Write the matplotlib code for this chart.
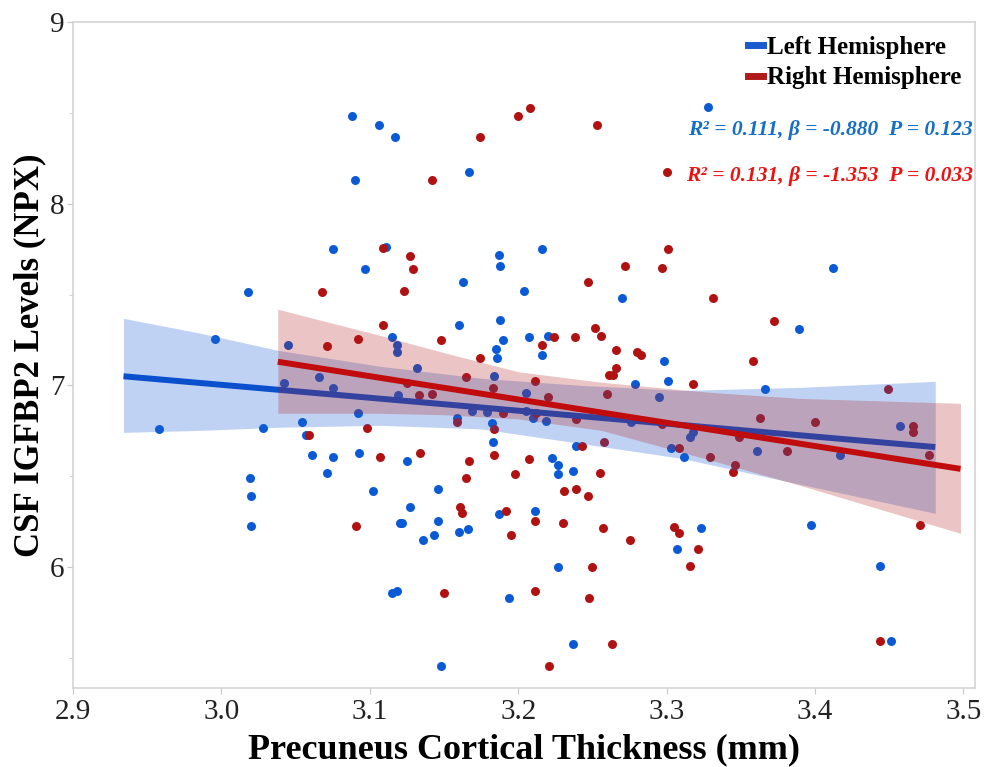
import numpy as np
import matplotlib
matplotlib.use("Agg")
import matplotlib.pyplot as plt
from matplotlib.lines import Line2D

plt.rcParams['font.family'] = ['Liberation Serif', 'DejaVu Serif']

# left hemisphere points (thickness mm, NPX)
left_x = [2.958, 2.996, 3.018, 3.028, 3.019, 3.020, 3.020, 3.088, 3.106, 3.117,
          3.090, 3.075, 3.111, 3.097, 3.045, 3.066, 3.115, 3.118, 3.118, 3.042,
          3.075, 3.119, 3.092, 3.054, 3.057, 3.061, 3.075, 3.093, 3.071, 3.102,
          3.120, 3.115, 3.118, 3.167, 3.187, 3.188, 3.216, 3.163, 3.204, 3.270,
          3.160, 3.188, 3.190, 3.207, 3.220, 3.216, 3.185, 3.186, 3.298, 3.301,
          3.132, 3.184, 3.205, 3.279, 3.295, 3.169, 3.179, 3.205, 3.210, 3.219,
          3.159, 3.182, 3.183, 3.239, 3.276, 3.303, 3.125, 3.223, 3.227, 3.227,
          3.237, 3.146, 3.127, 3.122, 3.146, 3.143, 3.136, 3.160, 3.166, 3.187,
          3.211, 3.307, 3.227, 3.194, 3.237, 3.148, 3.328, 3.412, 3.389, 3.366,
          3.457, 3.316, 3.318, 3.312, 3.361, 3.417, 3.397, 3.323, 3.444, 3.451]
left_y = [6.758, 7.253, 7.512, 6.763, 6.488, 6.388, 6.223, 8.482, 8.433, 8.366,
          8.129, 7.749, 7.760, 7.639, 7.220, 7.044, 7.264, 7.220, 7.182, 7.011,
          6.983, 6.945, 6.846, 6.796, 6.725, 6.614, 6.603, 6.625, 6.515, 6.416,
          6.240, 5.854, 5.865, 8.174, 7.716, 7.656, 7.749, 7.567, 7.518, 7.479,
          7.331, 7.358, 7.248, 7.264, 7.270, 7.165, 7.198, 7.149, 7.132, 7.022,
          7.094, 7.050, 6.956, 7.006, 6.934, 6.857, 6.851, 6.857, 6.818, 6.802,
          6.818, 6.791, 6.686, 6.664, 6.796, 6.653, 6.581, 6.598, 6.559, 6.510,
          6.526, 6.427, 6.328, 6.240, 6.251, 6.174, 6.146, 6.190, 6.207, 6.289,
          6.306, 6.096, 5.997, 5.826, 5.573, 5.452, 8.532, 7.645, 7.309, 6.978,
          6.774, 6.713, 6.741, 6.603, 6.636, 6.614, 6.229, 6.212, 6.003, 5.590]

# right hemisphere points
right_x = [3.174, 3.200, 3.208, 3.253, 3.142, 3.300, 3.109, 3.127, 3.129, 3.123,
           3.272, 3.297, 3.301, 3.247, 3.109, 3.148, 3.224, 3.238, 3.252, 3.256,
           3.216, 3.174, 3.266, 3.280, 3.283, 3.266, 3.261, 3.264, 3.165, 3.211,
           3.068, 3.071, 3.092, 3.059, 3.098, 3.107, 3.091, 3.125, 3.133, 3.142,
           3.183, 3.220, 3.260, 3.190, 3.212, 3.159, 3.184, 3.184, 3.243, 3.258,
           3.308, 3.134, 3.167, 3.165, 3.207, 3.198, 3.255, 3.231, 3.239, 3.247,
           3.239, 3.161, 3.162, 3.192, 3.211, 3.195, 3.230, 3.257, 3.275, 3.305,
           3.308, 3.250, 3.150, 3.211, 3.248, 3.263, 3.221, 3.331, 3.372, 3.358,
           3.318, 3.449, 3.363, 3.400, 3.466, 3.466, 3.349, 3.329, 3.381, 3.477,
           3.346, 3.345, 3.471, 3.321, 3.316, 3.444, 3.297]
right_y = [8.366, 8.482, 8.526, 8.433, 8.129, 8.174, 7.755, 7.711, 7.639, 7.518,
           7.656, 7.645, 7.749, 7.567, 7.331, 7.248, 7.264, 7.264, 7.314, 7.270,
           7.220, 7.149, 7.193, 7.182, 7.165, 7.094, 7.055, 7.055, 7.044, 7.022,
           7.512, 7.215, 7.253, 6.725, 6.763, 6.603, 6.223, 7.011, 6.945, 6.950,
           6.983, 6.934, 6.950, 6.846, 6.846, 6.796, 6.758, 6.614, 6.664, 6.686,
           6.653, 6.625, 6.581, 6.488, 6.592, 6.510, 6.515, 6.416, 6.427, 6.388,
           6.813, 6.328, 6.295, 6.306, 6.251, 6.174, 6.240, 6.212, 6.146, 6.218,
           6.185, 5.997, 5.854, 5.865, 5.826, 5.573, 5.452, 7.479, 7.353, 7.132,
           7.006, 6.978, 6.818, 6.796, 6.774, 6.741, 6.713, 6.603, 6.636, 6.614,
           6.559, 6.521, 6.229, 6.096, 6.003, 5.590, 6.785]

# fitted lines and confidence bands
left_fit_x = [2.934, 3.481]
left_fit_y = [7.05, 6.66]
left_band_x = [2.934, 2.986, 3.038, 3.107, 3.175, 3.242, 3.310, 3.390, 3.481]
left_band_hi = [7.369, 7.287, 7.193, 7.105, 7.039, 7.000, 6.972, 6.989, 7.022]
left_band_lo = [6.741, 6.752, 6.769, 6.780, 6.760, 6.680, 6.598, 6.455, 6.295]

right_fit_x = [3.038, 3.498]
right_fit_y = [7.13, 6.54]
right_band_x = [3.038, 3.107, 3.150, 3.200, 3.256, 3.330, 3.390, 3.498]
right_band_hi = [7.419, 7.275, 7.180, 7.075, 7.017, 6.961, 6.928, 6.901]
right_band_lo = [6.846, 6.846, 6.838, 6.815, 6.752, 6.587, 6.449, 6.185]

blue_pt = '#0a5ad6'
red_pt = '#b01212'

fig = plt.figure(figsize=(9.84, 7.67), dpi=100)
ax = fig.add_axes([0.0742, 0.103, 0.917, 0.868])

ax.scatter(left_x, left_y, s=42, color=blue_pt, linewidths=0, zorder=1)
ax.scatter(right_x, right_y, s=42, color=red_pt, linewidths=0, zorder=1)

ax.fill_between(left_band_x, left_band_lo, left_band_hi, color='#1f5fd6',
                alpha=0.28, linewidth=0, zorder=2)
ax.plot(left_fit_x, left_fit_y, color='#0a50cd', lw=4.3, zorder=3,
        solid_capstyle='butt')
ax.fill_between(right_band_x, right_band_lo, right_band_hi, color='#b01818',
                alpha=0.25, linewidth=0, zorder=4)
ax.plot(right_fit_x, right_fit_y, color='#c00c0c', lw=4.3, zorder=5,
        solid_capstyle='butt')

ax.set_xlim(2.9, 3.508)
ax.set_ylim(5.333, 9.0)
ax.set_xticks(np.arange(2.9, 3.51, 0.1))
ax.set_xticklabels(['2.9', '3.0', '3.1', '3.2', '3.3', '3.4', '3.5'])
ax.set_yticks([6, 7, 8, 9])
ax.set_yticks([5.5, 6.5, 7.5, 8.5], minor=True)

for s in ax.spines.values():
    s.set_color('#d4d4d4')
    s.set_linewidth(1.2)
ax.tick_params(axis='both', which='major', length=4, color='#c8c8c8',
               labelsize=21, pad=4, labelcolor='#222222')
ax.tick_params(axis='y', which='major', pad=2)
ax.tick_params(axis='y', which='minor', length=3, color='#c8c8c8')

ax.set_xlabel('Precuneus Cortical Thickness (mm)', fontsize=26,
              fontweight='bold', labelpad=6)
ax.set_ylabel('CSF IGFBP2 Levels (NPX)', fontsize=25,
              fontweight='bold', labelpad=3)

handles = [Line2D([0], [0], color='#1a5ad0', lw=5),
           Line2D([0], [0], color='#b01a1a', lw=5)]
ax.legend(handles, ['Left Hemisphere', 'Right Hemisphere'], loc='upper right',
          frameon=False, handlelength=0.6, handletextpad=0.15,
          prop={'weight': 'bold', 'size': 18}, borderaxespad=0.15,
          labelspacing=0.3, bbox_to_anchor=(1.0, 1.0))

ax.text(0.997, 0.838, 'R² = 0.111, β = -0.880  P = 0.123', transform=ax.transAxes,
        ha='right', va='center', color='#166ec6', fontsize=15.5,
        fontweight='bold', fontstyle='italic')
ax.text(0.997, 0.769, 'R² = 0.131, β = -1.353  P = 0.033', transform=ax.transAxes,
        ha='right', va='center', color='#ee1111', fontsize=15.5,
        fontweight='bold', fontstyle='italic')

fig.savefig('out.png', dpi=100)
